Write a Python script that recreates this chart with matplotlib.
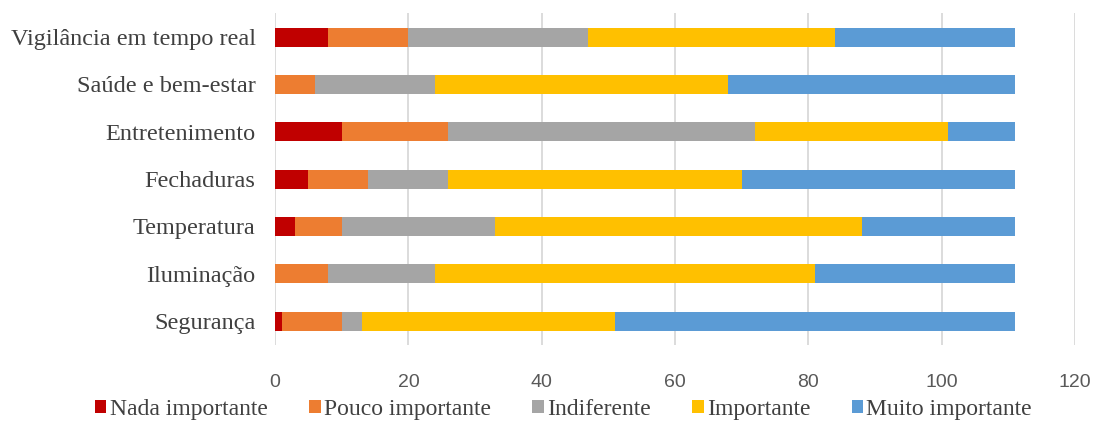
import matplotlib.pyplot as plt

categories = ["Vigilância em tempo real", "Saúde e bem-estar", "Entretenimento",
              "Fechaduras", "Temperatura", "Iluminação", "Segurança"]

nada = [8, 0, 10, 5, 3, 0, 1]
pouco = [12, 6, 16, 9, 7, 8, 9]
indiferente = [27, 18, 46, 12, 23, 16, 3]
importante = [37, 44, 29, 44, 55, 57, 38]
muito = [27, 43, 10, 41, 23, 30, 60]

series = [
    ("Nada importante", nada, "#C00000"),
    ("Pouco importante", pouco, "#ED7D31"),
    ("Indiferente", indiferente, "#A5A5A5"),
    ("Importante", importante, "#FFC000"),
    ("Muito importante", muito, "#5B9BD5"),
]

xticks = [0, 20, 40, 60, 80, 100, 120]


def main():
    fig = plt.figure(figsize=(10.96, 4.21), dpi=100)
    ax = fig.add_axes([0.251, 0.181, 0.730, 0.787])

    ypos = list(range(len(categories)))[::-1]
    left = [0] * len(categories)
    for name, vals, color in series:
        ax.barh(ypos, vals, left=left, height=0.4, color=color, label=name,
                linewidth=0, zorder=3)
        left = [a + b for a, b in zip(left, vals)]

    ax.set_xlim(0, 120)
    ax.set_ylim(-0.5, len(categories) - 0.5)
    ax.set_xticks(xticks)
    ax.set_xticklabels([str(t) for t in xticks],
                       family=["Liberation Sans Narrow", "Liberation Sans"],
                       fontsize=14, color="#595959")
    ax.set_yticks(ypos)
    ax.set_yticklabels(categories, family="Liberation Serif", fontsize=17.5,
                       color="#404040")
    ax.tick_params(axis="both", length=0)
    ax.tick_params(axis="x", pad=21)
    ax.tick_params(axis="y", pad=14)

    ax.grid(axis="x", color="#D9D9D9", linewidth=1.3, zorder=0)
    for s in ax.spines.values():
        s.set_visible(False)

    fig.legend(loc="lower center", bbox_to_anchor=(0.514, -0.048), ncol=5,
               frameon=False, handlelength=0.5, handleheight=0.5,
               handletextpad=0.13, columnspacing=1.75,
               prop={"family": "Liberation Serif", "size": 17},
               labelcolor="#404040")

    fig.savefig("out.png", dpi=100)


if __name__ == "__main__":
    main()
